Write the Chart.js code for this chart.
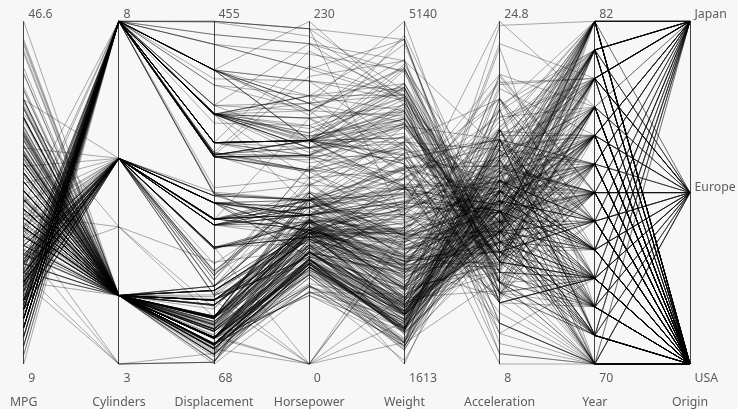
<!DOCTYPE html>
<html>
<head>
<meta charset="utf-8">
<style>
  html, body { margin: 0; padding: 0; background: #f7f7f7; }
  canvas { display: block; filter: blur(0.35px); }
</style>
<script src="https://cdn.jsdelivr.net/npm/chart.js@4/dist/chart.umd.min.js"></script>
</head>
<body>
<canvas id="parallelChart" width="738" height="409"></canvas>
<script>
const dimensions = ['MPG', 'Cylinders', 'Displacement', 'Horsepower', 'Weight', 'Acceleration', 'Year', 'Origin']
const topTicks = ['46.6', '8', '455', '230', '5140', '24.8', '82', 'Japan']
const bottomTicks = ['9', '3', '68', '0', '1613', '8', '70', 'USA']
const middleTick = 'Europe'
const axisMax = [46.6, 8, 455, 230, 5140, 24.8, 82, 3]
const axisMin = [9, 3, 68, 0, 1613, 8, 70, 1]

const mpg = [
  18,15,18,16,17,15,14,14,14,15,15,14,15,14,24,22,18,21,27,26,25,24,25,26,21,10,10,11,9,
  27,28,25,25,19,16,17,19,18,14,14,14,14,12,13,13,18,22,19,18,23,28,30,30,31,35,27,26,
  24,25,23,20,21,13,14,15,14,17,11,13,12,13,19,15,13,13,14,18,22,21,26,22,28,23,28,27,
  13,14,13,14,15,12,13,13,14,13,12,13,18,16,18,18,23,26,11,12,13,12,18,20,21,22,18,19,21,26,15,16,29,24,20,19,15,24,20,11,
  20,21,19,15,31,26,32,25,16,16,18,16,13,14,14,14,29,26,26,31,32,28,24,26,24,26,31,
  19,18,15,15,16,15,16,14,17,16,15,18,21,20,13,29,23,20,23,24,25,24,18,29,19,23,23,22,25,33,
  28,25,25,26,27,17.5,16,15.5,14.5,22,22,24,22.5,29,24.5,29,33,20,18,18.5,17.5,29.5,32,28,26.5,20,13,19,19,16.5,16.5,13,13,13,
  31.5,30,36,25.5,33.5,17.5,17,15.5,15,17.5,20.5,19,18.5,16,15.5,15.5,16,29,24.5,26,25.5,30.5,33.5,30,30.5,22,21.5,21.5,
  43.1,36.1,32.8,39.4,36.1,19.9,19.4,20.2,19.2,20.5,20.2,25.1,20.5,19.4,20.6,20.8,18.6,18.1,19.2,17.7,18.1,17.5,30,27.5,27.2,30.9,21.1,23.2,23.8,23.9,20.3,17,21.6,16.2,31.5,29.5,
  21.5,19.8,22.3,20.2,20.6,17,17.6,16.5,18.2,16.9,15.5,19.2,18.5,31.9,34.1,35.7,27.4,25.4,23,27.2,23.9,34.2,34.5,31.8,37.3,28.4,28.8,26.8,33.5,
  41.5,38.1,32.1,37.2,28,26.4,24.3,19.1,34.3,29.8,31.3,37,32.2,46.6,27.9,40.8,44.3,43.4,36.4,30,44.6,40.9,33.8,29.8,32.7,23.7,35,23.6,32.4,
  27.2,26.6,25.8,23.5,30,39.1,39,35.1,32.3,37,37.7,34.1,34.7,34.4,29.9,33,34.5,33.7,32.4,32.9,31.6,28.1,30.7,25.4,24.2,22.4,26.6,20.2,17.6,
  28,27,34,31,29,27,24,36,37,31,38,36,36,36,34,38,32,38,25,38,26,22,32,36,27,27,44,32,28,31,23
]
const cylinders = [
  8,8,8,8,8,8,8,8,8,8,8,8,8,8,4,6,6,6,4,4,4,4,4,4,6,8,8,8,8,
  4,4,4,4,6,6,6,6,6,8,8,8,8,8,8,8,6,4,6,6,4,4,4,4,4,4,4,4,
  4,4,4,4,4,8,8,8,8,8,8,8,8,8,3,8,8,8,8,4,4,4,4,4,4,4,4,4,
  8,8,8,8,8,8,8,8,8,8,8,8,6,6,6,6,6,4,8,8,8,8,6,4,4,4,3,4,6,4,8,8,4,4,4,4,8,4,6,8,
  6,6,6,6,4,4,4,4,6,6,6,8,8,8,8,8,4,4,4,4,4,4,4,4,4,4,4,
  6,6,6,6,8,8,8,8,6,6,6,6,6,8,8,4,4,6,4,4,4,4,6,4,6,4,4,4,4,4,
  4,4,4,4,4,8,8,8,8,6,6,6,6,4,4,4,4,6,6,6,6,4,4,4,4,4,8,4,6,6,8,8,8,8,
  4,4,4,4,4,8,8,8,8,6,6,6,6,8,8,8,8,4,4,4,4,4,4,4,4,6,4,3,
  4,4,4,4,4,8,8,8,6,6,6,4,6,6,6,6,6,6,8,6,8,8,4,4,4,4,4,4,4,4,5,6,4,6,4,4,
  6,6,4,6,6,8,8,8,8,8,8,8,8,4,4,4,4,5,8,4,8,4,4,4,4,4,6,6,4,
  4,4,4,4,4,4,4,6,4,4,4,4,4,4,4,4,4,4,5,4,4,4,4,4,6,3,4,4,4,
  4,4,4,6,4,4,4,4,4,4,4,4,4,4,4,4,4,4,4,4,4,4,6,6,6,6,8,6,6,
  4,4,4,4,4,4,4,4,4,4,4,4,4,4,4,4,4,4,6,6,4,6,4,4,4,4,4,4,4,4,4
]
const displacement = [
  307,350,318,304,302,429,454,440,455,390,383,340,400,455,113,198,199,200,97,97,110,107,104,121,199,360,307,318,304,
  97,140,113,98,232,225,250,250,232,350,400,351,318,383,400,400,258,140,250,250,122,116,79,88,71,72,97,91,
  113,97.5,97,140,122,350,400,318,351,304,429,350,350,400,70,304,307,302,318,121,121,120,96,122,97,120,98,97,
  350,304,350,302,318,429,400,351,318,440,455,360,225,250,232,250,198,97,400,400,360,350,232,97,140,108,70,122,155,98,350,400,68,116,114,121,318,121,156,350,
  198,200,232,250,79,122,71,140,250,258,225,302,350,318,302,304,98,79,97,76,83,90,90,116,120,108,79,
  225,250,250,250,400,350,318,351,231,250,258,225,231,262,302,97,140,232,140,134,90,119,171,90,232,115,120,121,121,91,
  107,116,140,98,101,305,318,304,351,225,250,200,232,85,98,90,91,225,250,250,258,97,85,97,140,130,318,120,156,168,350,350,302,318,
  98,111,79,122,85,305,260,318,302,250,231,225,250,400,350,400,351,97,151,97,140,98,98,97,97,146,121,80,
  90,98,78,85,91,260,318,302,231,200,200,140,225,232,231,200,225,258,305,231,302,318,98,134,119,105,134,156,151,119,131,163,121,163,89,98,
  231,200,140,232,225,305,302,351,318,350,351,267,360,89,86,98,121,183,350,141,260,105,105,85,91,151,173,173,151,
  98,89,98,86,151,140,151,225,97,134,120,119,108,86,156,85,90,90,121,146,91,85,97,89,168,70,122,140,107,
  135,151,156,173,135,79,86,81,97,85,89,91,105,98,98,105,100,107,108,119,120,141,145,168,146,231,350,200,225,
  112,112,112,112,135,151,140,105,91,91,105,98,120,107,108,91,91,91,181,262,156,232,144,135,151,140,97,135,120,119,151
]
const horsepower = [
  130,165,150,150,140,198,220,215,225,190,170,160,150,225,95,95,97,85,88,46,87,90,95,113,90,215,200,210,193,
  88,90,95,0,100,105,100,88,100,165,175,153,150,180,170,175,110,72,100,88,86,90,70,76,65,69,60,70,
  95,80,54,90,86,165,175,150,153,150,208,155,160,190,97,150,130,140,150,112,76,87,69,86,92,97,80,88,
  175,150,145,137,150,198,150,158,150,215,225,175,105,100,100,88,95,46,150,167,170,180,100,88,72,94,90,85,107,90,145,230,49,75,91,112,150,110,122,180,
  95,0,100,100,67,80,65,75,100,110,105,140,150,150,140,150,83,67,78,52,61,75,75,75,97,93,67,
  95,105,72,72,170,145,150,148,110,105,110,95,110,110,129,75,83,100,78,96,71,97,97,70,90,95,88,98,115,53,
  86,81,92,79,83,140,150,120,152,100,105,81,90,52,60,70,53,100,78,110,95,71,70,75,72,102,150,88,108,120,180,145,130,150,
  68,80,58,96,70,145,110,145,130,110,105,100,98,180,170,190,149,78,88,75,89,63,83,67,78,97,110,110,
  48,66,52,70,60,110,140,139,105,95,85,88,100,90,105,85,110,120,145,165,139,140,68,95,97,75,95,105,85,97,103,125,115,133,71,68,
  115,85,88,90,110,130,129,138,135,155,142,125,150,71,65,80,80,77,125,71,90,70,70,65,69,90,115,115,90,
  76,60,70,65,90,88,90,90,78,90,75,92,75,65,105,65,48,48,67,67,67,0,67,62,132,100,88,0,72,
  84,84,92,110,84,58,64,60,67,65,62,68,63,65,65,74,0,75,75,100,74,80,76,116,120,110,105,88,85,
  88,88,88,85,84,90,92,74,68,68,63,70,88,75,70,67,67,67,110,85,92,112,96,84,90,86,52,84,79,82,0
]
const weight = [
  3504,3693,3436,3433,3449,4341,4354,4312,4425,3850,3563,3609,3761,3086,2372,2833,2774,2587,2130,1835,2672,2430,2375,2234,2648,4615,4376,4382,4732,
  2130,2264,2228,2046,2634,3439,3329,3302,3288,4209,4464,4154,4096,4955,4746,5140,2962,2408,3282,3139,2220,2123,2074,2065,1773,1613,1834,1955,
  2278,2126,2254,2408,2226,4274,4385,4135,4129,3672,4633,4502,4456,4422,2330,3892,4098,4294,4077,2933,2511,2979,2189,2395,2288,2506,2164,2100,
  4100,3672,3988,4042,3777,4952,4464,4363,4237,4735,4951,3821,3121,3278,2945,3021,2904,1950,4997,4906,4654,4499,2789,2279,2401,2379,2124,2310,2472,2265,4082,4278,1867,2158,2582,2868,3399,2660,2807,3664,
  3102,2875,2901,3336,1950,2451,1836,2542,3781,3632,3613,4141,4699,4457,4638,4257,2219,1963,2300,1649,2003,2125,2108,2246,2489,2391,2000,
  3264,3459,3432,3158,4668,4440,4498,4657,3907,3897,3730,3785,3039,3221,3169,2171,2639,2914,2592,2702,2223,2545,2984,1937,3211,2694,2957,2945,2671,1795,
  2464,2220,2572,2255,2202,4215,4190,3962,4215,3233,3353,3012,3085,2035,2164,1937,1795,3651,3574,3645,3193,1825,1990,2155,2565,3150,3940,3270,2930,3820,4380,4055,3870,3755,
  2045,2155,1825,2300,1945,3880,4060,4140,4295,3520,3425,3630,3525,4220,4165,4325,4335,1940,2740,2265,2755,2051,2075,1985,2190,2815,2600,2720,
  1985,1800,1985,2070,1800,3365,3735,3570,3535,3155,2965,2720,3430,3210,3380,3070,3620,3410,3425,3445,3205,4080,2155,2560,2300,2230,2515,2745,2855,2405,2830,3140,2795,3410,1990,2135,
  3245,2990,2890,3265,3360,3840,3725,3955,3830,4360,4054,3605,3940,1925,1975,1915,2670,3530,3900,3190,3420,2200,2150,2020,2130,2670,2595,2700,2556,
  2144,1968,2120,2019,2678,2870,3003,3381,2188,2711,2542,2434,2265,2110,2800,2110,2085,2335,2950,3250,1850,1835,2145,1845,2910,2420,2500,2905,2290,
  2490,2635,2620,2725,2385,1755,1875,1760,2065,1975,2050,1985,2215,2045,2380,2190,2320,2210,2350,2615,2635,3230,3160,2900,2930,3415,3725,3060,3465,
  2605,2640,2395,2575,2525,2735,2865,1980,2025,1970,2125,2125,2160,2205,2245,1965,1965,1995,2945,3015,2585,2835,2665,2370,2950,2790,2130,2295,2625,2720,3035
]
const acceleration = [
  12,11.5,11,12,10.5,10,9,8.5,10,8.5,10,8,9.5,10,15,15.5,15.5,16,14.5,20.5,17.5,14.5,17.5,12.5,15,14,15,13.5,18.5,
  14.5,15.5,14,19,13,15.5,15.5,15.5,15.5,12,11.5,13.5,13,11.5,12,12,13.5,19,15,14.5,14,14,19.5,14.5,19,18,19,20.5,
  15.5,17,23.5,19.5,16.5,12,12,13.5,13,11.5,11,13.5,13.5,12.5,13.5,12.5,14,16,14,14.5,18,19.5,18,16,17,14.5,15,16.5,
  13,11.5,13,14.5,12.5,11.5,12,13,14.5,11,11,11,16.5,18,16,16.5,16,21,14,12.5,13,12.5,15,19,19.5,16.5,13.5,18.5,14,15.5,13,9.5,19.5,15.5,14,15.5,11,14,13.5,11,
  16.5,17,16,17,19,16.5,21,17,17,18,16.5,14,14.5,13.5,16,15.5,16.5,15.5,14.5,16.5,19,14.5,15.5,14,15,15.5,16,
  16,16,21,19.5,11.5,14,14.5,13.5,21,18.5,19,19,15,13.5,12,16,17,16,18.5,13.5,16.5,17,14.5,14,17,15,17,14.5,13.5,17.5,
  15.5,16.9,14.9,17.7,15.3,13,13,13.9,12.8,15.4,14.5,17.6,17.6,22.2,22.1,14.2,17.4,17.7,21,16.2,17.8,12.2,17,16.4,13.6,15.7,13.2,21.9,15.5,16.7,12.1,12,15,14,
  18.5,14.8,18.6,15.5,16.8,12.5,19,13.7,14.9,16.4,16.9,17.7,19,11.1,11.4,12.2,14.5,14.5,16,18.2,15.8,17,15.9,16.4,14.1,14.5,12.8,13.5,
  21.5,14.4,19.4,18.6,16.4,15.5,13.2,12.8,19.2,18.2,15.8,15.4,17.2,17.2,15.8,16.7,18.7,15.1,13.2,13.4,11.2,13.7,16.5,14.2,14.7,14.5,14.8,16.7,17.6,14.9,15.9,13.6,15.7,15.8,14.9,16.6,
  15.4,18.2,17.3,18.2,16.6,15.4,13.4,13.2,15.2,14.9,14.3,15,13,14,15.2,14.4,15,20.1,17.4,24.8,22.2,13.2,14.9,19.2,14.7,16,11.3,12.9,13.2,
  14.7,18.8,15.5,16.4,16.5,18.1,20.1,18.7,15.8,15.5,17.5,15,15.2,17.9,14.4,19.2,21.7,23.7,19.9,21.8,13.8,17.3,18,15.3,11.4,12.5,15.1,14.3,17,
  15.7,16.4,14.4,12.6,12.9,16.9,16.4,16.1,17.8,19.4,17.3,16,14.9,16.2,20.7,14.2,15.8,14.4,16.8,14.8,18.3,20.4,19.6,12.6,13.8,15.8,19,17.1,16.6,
  19.6,18.6,18,16.2,16,18,16.4,15.3,18.2,17.6,14.7,17.3,14.5,14.5,16.9,15,15.7,16.2,16.4,17,14.5,14.7,13.9,13,17.3,15.6,24.6,11.6,18.6,19.4,20.5
]
const year = [
  70,70,70,70,70,70,70,70,70,70,70,70,70,70,70,70,70,70,70,70,70,70,70,70,70,70,70,70,70,
  71,71,71,71,71,71,71,71,71,71,71,71,71,71,71,71,71,71,71,71,71,71,71,71,71,71,71,71,
  72,72,72,72,72,72,72,72,72,72,72,72,72,72,72,72,72,72,72,72,72,72,72,72,72,72,72,72,
  73,73,73,73,73,73,73,73,73,73,73,73,73,73,73,73,73,73,73,73,73,73,73,73,73,73,73,73,73,73,73,73,73,73,73,73,73,73,73,73,
  74,74,74,74,74,74,74,74,74,74,74,74,74,74,74,74,74,74,74,74,74,74,74,74,74,74,74,
  75,75,75,75,75,75,75,75,75,75,75,75,75,75,75,75,75,75,75,75,75,75,75,75,75,75,75,75,75,75,
  76,76,76,76,76,76,76,76,76,76,76,76,76,76,76,76,76,76,76,76,76,76,76,76,76,76,76,76,76,76,76,76,76,76,
  77,77,77,77,77,77,77,77,77,77,77,77,77,77,77,77,77,77,77,77,77,77,77,77,77,77,77,77,
  78,78,78,78,78,78,78,78,78,78,78,78,78,78,78,78,78,78,78,78,78,78,78,78,78,78,78,78,78,78,78,78,78,78,78,78,
  79,79,79,79,79,79,79,79,79,79,79,79,79,79,79,79,79,79,79,79,79,79,79,79,79,79,79,79,79,
  80,80,80,80,80,80,80,80,80,80,80,80,80,80,80,80,80,80,80,80,80,80,80,80,80,80,80,80,80,
  81,81,81,81,81,81,81,81,81,81,81,81,81,81,81,81,81,81,81,81,81,81,81,81,81,81,81,81,81,
  82,82,82,82,82,82,82,82,82,82,82,82,82,82,82,82,82,82,82,82,82,82,82,82,82,82,82,82,82,82,82
]
// 1 = USA, 2 = Europe, 3 = Japan
const origin = [
  1,1,1,1,1,1,1,1,1,1,1,1,1,1,3,1,1,1,3,2,2,2,2,2,1,1,1,1,1,
  3,1,3,1,1,1,1,1,1,1,1,1,1,1,1,1,1,1,1,1,1,2,2,2,3,3,2,1,
  3,1,2,1,1,1,1,1,1,1,1,1,1,1,3,1,1,1,1,2,2,2,2,1,3,3,1,3,
  1,1,1,1,1,1,1,1,1,1,1,1,1,1,1,1,1,2,1,1,1,1,1,3,1,3,3,1,1,2,1,1,2,2,2,2,1,2,3,1,
  1,1,1,1,3,1,3,1,1,1,1,1,1,1,1,1,2,2,2,3,3,1,2,2,3,3,2,
  1,1,1,1,1,1,1,1,1,1,1,1,1,1,1,3,1,1,1,3,2,3,1,2,1,2,2,2,2,3,
  2,2,1,1,2,1,1,1,1,1,1,1,1,1,1,2,3,1,1,1,1,2,3,3,1,2,1,2,3,2,1,1,1,1,
  3,1,2,1,3,1,1,1,1,1,1,1,1,1,1,1,1,2,1,3,1,1,1,3,2,3,2,3,
  2,1,3,3,3,1,1,1,1,1,1,1,1,1,1,1,1,1,1,1,1,1,1,3,3,1,3,1,1,3,2,2,2,2,2,3,
  1,1,1,1,1,1,1,1,1,1,1,1,1,2,3,1,1,2,1,2,1,1,1,3,2,1,1,1,1,
  2,3,1,3,1,1,1,1,2,3,3,3,3,3,1,3,2,2,2,2,3,2,3,2,3,3,2,1,3,
  1,1,1,1,1,3,1,3,3,3,3,3,1,1,1,2,2,3,3,3,3,2,2,3,3,1,1,1,1,
  1,1,1,1,1,1,1,2,3,3,1,1,3,3,3,3,3,3,1,1,1,1,3,1,1,1,2,1,1,1,1
]

const columns = [mpg, cylinders, displacement, horsepower, weight, acceleration, year, origin]

function normalise(value, i) {
  return (value - axisMin[i]) / (axisMax[i] - axisMin[i])
}

const datasets = mpg.map((_, row) => ({
  data: columns.map((column, i) => normalise(column[row], i)),
  borderColor: 'rgba(0, 0, 0, 0.32)',
  borderWidth: 1,
  pointRadius: 0,
  tension: 0,
  fill: false,
  clip: false
}))

const textColor = '#5c5c5c'
const fontFamily = '"Noto Sans"'

// value labels sit beside each axis, names sit under it
const axisLabels = {
  id: 'axisLabels',
  afterDraw(chart) {
    const { ctx, scales: { x, y } } = chart
    ctx.save()
    ctx.fillStyle = textColor
    ctx.font = '12.3px ' + fontFamily
    ctx.textBaseline = 'middle'
    dimensions.forEach((name, i) => {
      const px = x.getPixelForValue(i)
      ctx.textAlign = 'left'
      ctx.fillText(topTicks[i], px + 4.5, y.top - 7)
      ctx.fillText(bottomTicks[i], px + 4.5, y.bottom + 14)
      ctx.textAlign = 'center'
      ctx.fillText(name, px, y.bottom + 38)
    })
    ctx.textAlign = 'left'
    ctx.fillText(middleTick, x.getPixelForValue(7) + 4.5, y.getPixelForValue(0.5) - 5)
    ctx.restore()
  }
}

new Chart(document.getElementById('parallelChart').getContext('2d'), {
  type: 'line',
  data: { labels: dimensions, datasets: datasets },
  options: {
    responsive: false,
    animation: false,
    events: [],
    layout: { padding: { left: 23.7, right: 48, top: 21.3, bottom: 45 } },
    plugins: { legend: { display: false }, title: { display: false }, tooltip: { enabled: false } },
    scales: {
      x: {
        type: 'category',
        offset: false,
        border: { display: false },
        grid: { color: '#444', lineWidth: 1, drawTicks: false },
        ticks: { display: false }
      },
      y: { display: false, min: 0, max: 1 }
    }
  },
  plugins: [axisLabels]
})
</script>
</body>
</html>
